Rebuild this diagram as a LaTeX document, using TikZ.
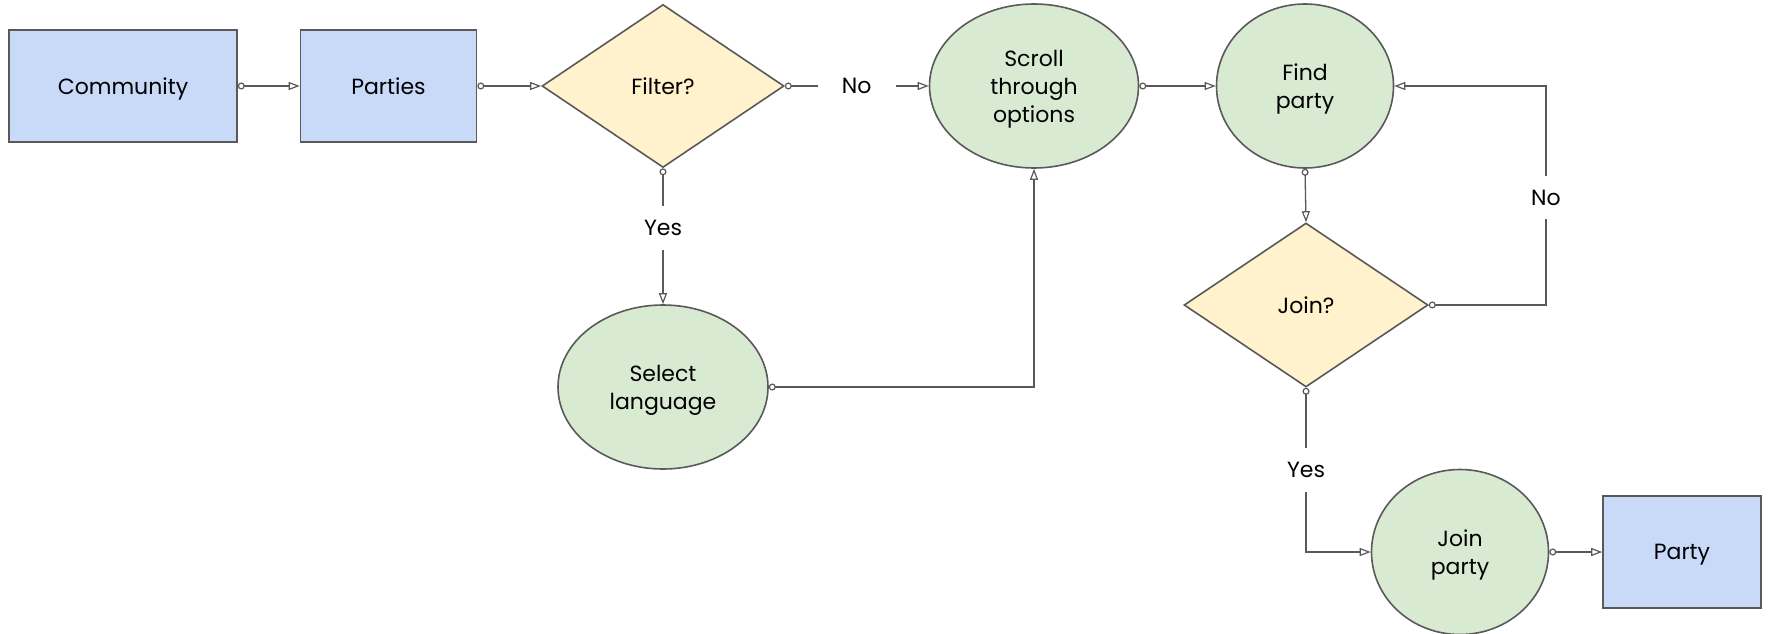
\documentclass[tikz,border=0pt]{standalone}
\usepackage{fontspec}
\setmainfont{Poppins}
\usetikzlibrary{shapes.geometric,arrows.meta}
\definecolor{bordergray}{HTML}{595959}
\definecolor{boxblue}{HTML}{C9DAF8}
\definecolor{decyellow}{HTML}{FFF2CC}
\definecolor{procgreen}{HTML}{D9EAD3}
\tikzset{
  base/.style={draw=bordergray, line width=1.6pt, text=black, font=\fontsize{22}{28}\selectfont, align=center, inner sep=0pt, text depth=0pt},
  boxnode/.style={base, rectangle, fill=boxblue},
  decnode/.style={base, diamond, fill=decyellow},
  procnode/.style={base, ellipse, fill=procgreen},
  conn/.style={draw=bordergray, line width=1.3pt, {Circle[open,length=7pt,width=7pt,line width=1.2pt]}-{Triangle[open,length=11pt,width=8pt,line width=1.2pt]}},
  lbl/.style={fill=white, text=black, font=\fontsize{22}{28}\selectfont, inner xsep=24pt, inner ysep=14pt}
}
\begin{document}
\begin{tikzpicture}[x=1pt,y=-1pt]
\useasboundingbox (0,0) rectangle (1771,634);
\node[boxnode, minimum width=228pt, minimum height=112pt] (community) at (123,86) {Community};
\node[boxnode, minimum width=176pt, minimum height=112pt] (parties) at (388.5,86) {Parties};
\node[decnode, minimum width=242pt, minimum height=163pt] (filter) at (663,86) {Filter?};
\node[procnode, minimum width=209pt, minimum height=164pt] (scroll) at (1034,86) {Scroll\\through\\options};
\node[procnode, minimum width=177pt, minimum height=164pt] (find) at (1305,86) {Find\\party};
\node[procnode, minimum width=210pt, minimum height=164pt] (select) at (663,387) {Select\\language};
\node[decnode, minimum width=244pt, minimum height=164pt] (join) at (1306,305) {Join?};
\node[procnode, minimum width=177pt, minimum height=165pt] (joinparty) at (1460,552) {Join\\party};
\node[boxnode, minimum width=158pt, minimum height=112pt] (party) at (1682,552) {Party};

\draw[conn] (community.east) -- (parties.west);
\draw[conn] (parties.east) -- (filter.west);
\draw[conn] (filter.east) -- node[lbl] {No} (scroll.west);
\draw[conn] (filter.south) -- node[lbl, pos=0.44] {Yes} (select.north);
\draw[conn] (select.east) -- (select.east -| scroll.south) -- (scroll.south);
\draw[conn] (scroll.east) -- (find.west);
\draw[conn] (find.south) -- (join.north);
\coordinate (loopb) at (1546,305);
\coordinate (loopt) at (1546,86);
\draw[conn] (join.east) -- (loopb) -- node[lbl, pos=0.49] {No} (loopt) -- (find.east);
\coordinate (yesc) at (join.south |- joinparty.west);
\draw[conn] (join.south) -- node[lbl] {Yes} (yesc) -- (joinparty.west);
\draw[conn] (joinparty.east) -- (party.west);
\end{tikzpicture}
\end{document}
